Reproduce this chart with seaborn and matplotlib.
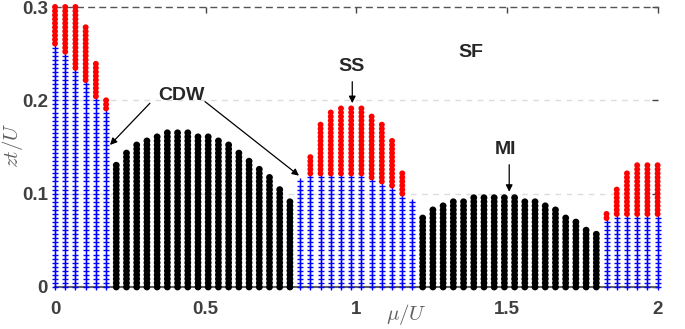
import numpy as np
import pandas as pd
import matplotlib
matplotlib.use("Agg")
import matplotlib.pyplot as plt
import seaborn as sns

# ---- data ----
mu_values = np.linspace(0, 2, 60)          # columns of the phase diagram
zt_grid = np.linspace(0, 0.3, 70)          # sampling in zt/U

black_top = [0, 0, 0, 0, 0, 0,
             0.134, 0.144, 0.154, 0.159, 0.164, 0.169, 0.169, 0.169, 0.164,
             0.164, 0.159, 0.154, 0.144, 0.139, 0.129, 0.118, 0.108, 0.093,
             0, 0, 0, 0, 0, 0, 0, 0, 0, 0, 0, 0,
             0.078, 0.083, 0.088, 0.093, 0.093, 0.098, 0.098, 0.098, 0.098,
             0.098, 0.093, 0.093, 0.088, 0.083, 0.078, 0.073, 0.063, 0.0575,
             0, 0, 0, 0, 0, 0]
blue_top = [0.26, 0.25, 0.234, 0.22, 0.204, 0.19,
            0, 0, 0, 0, 0, 0, 0, 0, 0, 0, 0, 0, 0, 0, 0, 0, 0, 0,
            0.114, 0.12, 0.12, 0.12, 0.12, 0.12, 0.12, 0.117, 0.112, 0.106,
            0.0975, 0.092,
            0, 0, 0, 0, 0, 0, 0, 0, 0, 0, 0, 0, 0, 0, 0, 0, 0, 0,
            0.072, 0.077, 0.078, 0.078, 0.078, 0.078]
red_top = [0.3, 0.3, 0.3, 0.281, 0.24, 0.2,
           0, 0, 0, 0, 0, 0, 0, 0, 0, 0, 0, 0, 0, 0, 0, 0, 0, 0,
           0, 0.143, 0.174, 0.189, 0.194, 0.194, 0.194, 0.184, 0.174, 0.159,
           0.123, 0,
           0, 0, 0, 0, 0, 0, 0, 0, 0, 0, 0, 0, 0, 0, 0, 0, 0, 0,
           0.0825, 0.108, 0.1225, 0.133, 0.133, 0.133]

tick_x = [0, 0.5, 1, 1.5, 2]
tick_x_labels = ["0", "0.5", "1", "1.5", "2"]
tick_y = [0, 0.1, 0.2, 0.3]
tick_y_labels = ["0", "0.1", "0.2", "0.3"]

# ---- build long table ----
rows = []
eps = 1e-9
for m, bk, bl, rd in zip(mu_values, black_top, blue_top, red_top):
    for z in zt_grid:
        if bk > 0 and z <= bk + eps:
            rows.append((m, z, "black"))
        if bl > 0 and z <= bl + eps:
            rows.append((m, z, "blue"))
        if rd > 0 and bl + eps < z <= rd + eps:
            rows.append((m, z, "red"))
df = pd.DataFrame(rows, columns=["mu", "zt", "phase"])

sns.set_theme(style="white")
plt.rcParams["font.family"] = ["Liberation Sans", "DejaVu Sans"]
plt.rcParams["mathtext.fontset"] = "cm"

fig = plt.figure(figsize=(6.85, 3.29), dpi=100)
ax = fig.add_axes([0.0803, 0.1277, 0.8797, 0.851])

for y in (0.1, 0.2):
    ax.axhline(y, color="#dcdcdc", lw=1.0, ls=(0, (4, 4)), zorder=0)

sns.scatterplot(data=df[df.phase == "black"], x="mu", y="zt", ax=ax,
                color="black", marker="o", s=24, edgecolor="none",
                legend=False, clip_on=False, zorder=3)
sns.scatterplot(data=df[df.phase == "blue"], x="mu", y="zt", ax=ax,
                color="#0000ff", marker="+", s=15, linewidth=1.0,
                legend=False, clip_on=False, zorder=3)
sns.scatterplot(data=df[df.phase == "red"], x="mu", y="zt", ax=ax,
                color="#ff0000", marker="o", s=18, edgecolor="none",
                legend=False, clip_on=False, zorder=3)

ax.set_xlim(0, 2)
ax.set_ylim(0, 0.3)
ax.set_xticks(tick_x)
ax.set_xticklabels(tick_x_labels)
ax.set_yticks(tick_y)
ax.set_yticklabels(tick_y_labels)
ax.tick_params(axis="both", direction="in", length=4, width=1,
               color="#444444", labelcolor="#404040", labelsize=13.5,
               top=True, right=True)
ax.tick_params(axis="x", pad=10)
ax.tick_params(axis="y", pad=5)
for lab in ax.get_xticklabels() + ax.get_yticklabels():
    lab.set_fontweight("bold")

ax.spines["left"].set_visible(False)
ax.spines["right"].set_visible(False)
ax.spines["bottom"].set_color("#606060")
ax.spines["bottom"].set_linewidth(1.5)
ax.spines["top"].set_color("#555555")
ax.spines["top"].set_linewidth(1.0)
ax.spines["top"].set_linestyle((0, (4, 4)))

ax.set_xlabel(r"$\mu/U$", fontsize=15, color="#606060")
ax.xaxis.set_label_coords(0.584, -0.1)
ax.xaxis.label.set_va("center")
ax.set_ylabel(r"$zt/U$", fontsize=15, color="#606060")
ax.yaxis.set_label_coords(-0.07, 0.507)
ax.yaxis.label.set_va("center")

txt = dict(fontsize=14, fontweight="bold", color="#262626",
           ha="center", va="center")
ax.text(1.380, 0.2508, "SF", **txt)
ax.text(0.418, 0.2047, "CDW", **txt)
arrow = dict(arrowstyle="-|>", lw=0.9, color="black", mutation_scale=10,
             shrinkA=0, shrinkB=0)
ax.annotate("", xy=(0.1825, 0.1522), xytext=(0.315, 0.1969), arrowprops=arrow)
ax.annotate("", xy=(0.8098, 0.1193), xytext=(0.498, 0.1986), arrowprops=arrow)
ax.text(0.9856, 0.2358, "SS", **txt)
ax.annotate("", xy=(0.9866, 0.197), xytext=(0.9866, 0.22), arrowprops=arrow)
ax.text(1.4966, 0.1468, "MI", **txt)
ax.annotate("", xy=(1.5075, 0.102), xytext=(1.5075, 0.131), arrowprops=arrow)

fig.savefig("out.png", dpi=100)
